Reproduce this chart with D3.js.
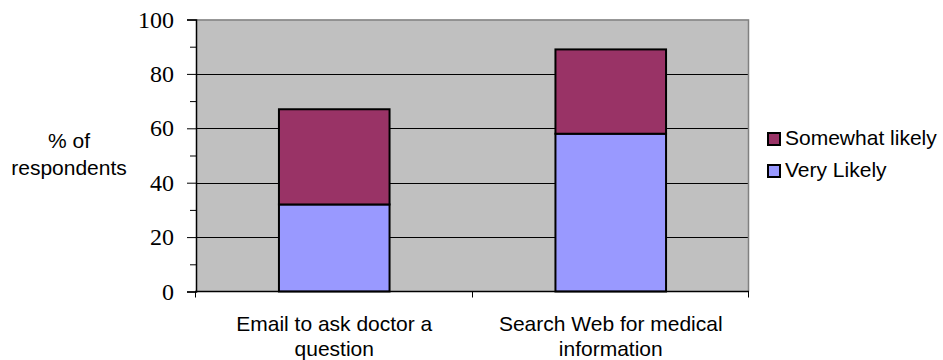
<!DOCTYPE html>
<html>
<head>
<meta charset="utf-8">
<script src="https://cdn.jsdelivr.net/npm/d3@7"></script>
<style>
  html, body { margin: 0; padding: 0; background: #ffffff; }
  svg { display: block; }
</style>
</head>
<body>
<svg id="chart" width="943" height="360"></svg>
<script>
// Survey answers: share of respondents per activity
const categories = [
  ["Email to ask doctor a", "question"],
  ["Search Web for medical", "information"]
];
const seriesNames = ["Very Likely", "Somewhat likely"];
const veryLikely = [32, 58];
const somewhatLikely = [35, 31];
const yTicks = [0, 20, 40, 60, 80, 100];
const yMinorTicks = [10, 30, 50, 70, 90];
const colors = { "Very Likely": "#9999FF", "Somewhat likely": "#993366" };

const svg = d3.select("#chart");
const plot = { left: 196, right: 749, top: 19.5, bottom: 291.5 };

const rows = categories.map((c, i) => ({
  key: i,
  "Very Likely": veryLikely[i],
  "Somewhat likely": somewhatLikely[i]
}));

const x = d3.scaleBand()
  .domain(rows.map(d => d.key))
  .range([plot.left, plot.right])
  .paddingInner(0)
  .paddingOuter(0);
const barW = x.bandwidth() * 0.4;

const y = d3.scaleLinear().domain([0, 100]).range([plot.bottom, plot.top]);

// plot background
svg.append("rect")
  .attr("x", plot.left).attr("y", plot.top)
  .attr("width", plot.right - plot.left).attr("height", plot.bottom - plot.top)
  .attr("fill", "#C0C0C0");

// horizontal gridlines
svg.append("g")
  .selectAll("line")
  .data(yTicks.filter(t => t > 0 && t < 100))
  .join("line")
  .attr("x1", plot.left).attr("x2", plot.right)
  .attr("y1", d => Math.round(y(d)) + 0.5).attr("y2", d => Math.round(y(d)) + 0.5)
  .attr("stroke", "#000").attr("stroke-width", 1);

// plot border (top and right)
svg.append("path")
  .attr("d", `M${plot.left},${plot.top + 0.5}H${plot.right - 0.5}V${plot.bottom}`)
  .attr("fill", "none").attr("stroke", "#808080").attr("stroke-width", 1.5);

// stacked bars
const stack = d3.stack().keys(seriesNames);
const layers = stack(rows);
svg.append("g")
  .selectAll("g")
  .data(layers)
  .join("g")
  .attr("fill", d => colors[d.key])
  .selectAll("rect")
  .data(d => d)
  .join("rect")
  .attr("x", d => x(d.data.key) + (x.bandwidth() - barW) / 2)
  .attr("width", barW)
  .attr("y", d => y(d[1]))
  .attr("height", d => y(d[0]) - y(d[1]))
  .attr("stroke", "#000")
  .attr("stroke-width", 2);

// y axis: major ticks with labels, minor ticks without
const yAxis = d3.axisLeft(y)
  .tickValues(yTicks)
  .tickSize(9)
  .tickPadding(13)
  .tickFormat(d3.format("d"));
const gy = svg.append("g")
  .attr("transform", `translate(${plot.left},0)`)
  .call(yAxis);
gy.select(".domain").attr("stroke", "#000").attr("stroke-width", 1.5);
gy.selectAll(".tick line").attr("stroke", "#000");
gy.selectAll(".tick text")
  .attr("font-family", "'Liberation Serif', 'Times New Roman', serif")
  .attr("font-size", 24)
  .attr("fill", "#000");

const yMinor = d3.axisLeft(y).tickValues(yMinorTicks).tickSize(6).tickFormat("");
const gyMinor = svg.append("g")
  .attr("transform", `translate(${plot.left},0)`)
  .call(yMinor);
gyMinor.select(".domain").remove();
gyMinor.selectAll(".tick line").attr("stroke", "#000");

// x axis: tick marks at category boundaries
const boundaries = rows.map(d => x(d.key)).concat([plot.right]);
const gx = svg.append("g");
gx.append("line")
  .attr("x1", plot.left - 1).attr("x2", plot.right)
  .attr("y1", plot.bottom).attr("y2", plot.bottom)
  .attr("stroke", "#000").attr("stroke-width", 1.5);
gx.selectAll("line.tick")
  .data(boundaries)
  .join("line")
  .attr("class", "tick")
  .attr("x1", d => Math.round(d) - 0.5).attr("x2", d => Math.round(d) - 0.5)
  .attr("y1", plot.bottom).attr("y2", plot.bottom + 6)
  .attr("stroke", "#000");

// category labels (two lines each)
const sans = "'Liberation Sans', Arial, sans-serif";
gx.selectAll("text.cat")
  .data(rows)
  .join("text")
  .attr("class", "cat")
  .attr("text-anchor", "middle")
  .attr("font-family", sans)
  .attr("font-size", 21)
  .attr("fill", "#000")
  .each(function (d, i) {
    const t = d3.select(this);
    categories[i].forEach((line, j) => {
      t.append("tspan")
        .attr("x", x(d.key) + x.bandwidth() / 2)
        .attr("y", 331 + j * 24.5)
        .text(line);
    });
  });

// y axis title
const yTitle = svg.append("text")
  .attr("text-anchor", "middle")
  .attr("font-family", sans)
  .attr("font-size", 21)
  .attr("fill", "#000");
yTitle.append("tspan").attr("x", 69).attr("y", 148).text("% of");
yTitle.append("tspan").attr("x", 69).attr("y", 175).text("respondents");

// legend
const legendOrder = ["Somewhat likely", "Very Likely"];
const legend = svg.append("g")
  .selectAll("g")
  .data(legendOrder)
  .join("g")
  .attr("transform", (d, i) => `translate(768,${133 + i * 32})`);
legend.append("rect")
  .attr("width", 12).attr("height", 12)
  .attr("fill", d => colors[d])
  .attr("stroke", "#000").attr("stroke-width", 2);
legend.append("text")
  .attr("x", 17).attr("y", 12)
  .attr("font-family", sans)
  .attr("font-size", 21)
  .attr("fill", "#000")
  .text(d => d);
</script>
</body>
</html>
